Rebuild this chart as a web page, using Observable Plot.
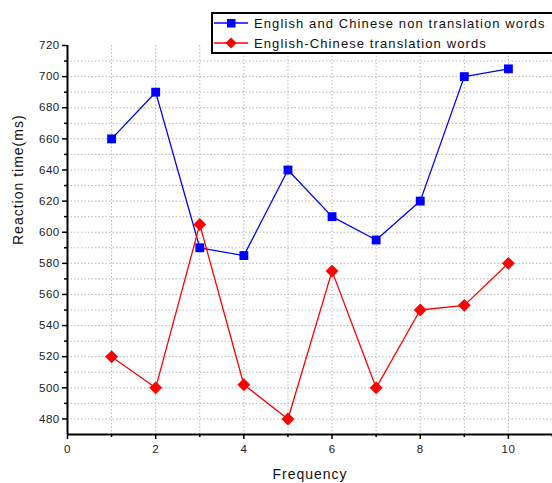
<!DOCTYPE html>
<html>
<head>
<meta charset="utf-8">
<script src="https://cdn.jsdelivr.net/npm/d3@7"></script>
<script src="https://cdn.jsdelivr.net/npm/@observablehq/plot@0.6"></script>
<style>
  html, body { margin: 0; padding: 0; background: #fff; }
  #wrap { position: relative; width: 552px; height: 483px; overflow: hidden; font-family: "Liberation Sans", Arial, sans-serif; }
  #legend { position: absolute; left: 211px; top: 12px; width: 345px; height: 38px; border: 2px solid #000; background: #fff; box-sizing: content-box; }
  .row { position: absolute; left: 0; height: 20px; display: flex; align-items: center; font-size: 13px; letter-spacing: 1.1px; color: #111; white-space: nowrap; }
  .row svg { margin-right: 5px; }
  #wrap svg g[aria-label="text"] text { letter-spacing: 1px; }
  #wrap svg g[aria-label="y-axis tick label"] text, #wrap svg g[aria-label="x-axis tick label"] text { letter-spacing: 0.4px; }
</style>
</head>
<body>
<div id="wrap"></div>
<script>
const frequency = [1, 2, 3, 4, 5, 6, 7, 8, 9, 10];
const nonTranslation = [660, 690, 590, 585, 640, 610, 595, 620, 700, 705];
const translation = [520, 500, 605, 502, 480, 575, 500, 550, 553, 580];
const seriesNames = ["English and Chinese non translation words", "English-Chinese translation words"];
const seriesColors = ["#0000ff", "#ff0000"];
const seriesSymbols = ["square", "diamond2"];
const yMajorTicks = d3.range(480, 721, 20);
const yMinorTicks = d3.range(490, 711, 20);
const xMajorTicks = [0, 2, 4, 6, 8, 10];
const xMinorTicks = [1, 3, 5, 7, 9, 11];
const yGrid = d3.range(480, 711, 10);
const xGrid = d3.range(1, 11, 1);

const rows = [];
frequency.forEach((f, i) => {
  rows.push({series: seriesNames[0], x: f, y: nonTranslation[i]});
  rows.push({series: seriesNames[1], x: f, y: translation[i]});
});
const s0 = rows.filter(d => d.series === seriesNames[0]);
const s1 = rows.filter(d => d.series === seriesNames[1]);

const fontFamily = "Liberation Sans, Arial, sans-serif";
const chart = Plot.plot({
  width: 552,
  height: 483,
  marginLeft: 67,
  marginRight: 0,
  marginTop: 45,
  marginBottom: 49,
  style: {fontFamily, fontSize: "11.5px", color: "#222", background: "#fff"},
  x: {domain: [0, 11]},
  y: {domain: [470, 720]},
  marks: [
    Plot.ruleY(yGrid, {y: d => d, stroke: "#b8b8b8", strokeWidth: 1, strokeDasharray: "1.5,2"}),
    Plot.ruleX(xGrid, {x: d => d, stroke: "#b8b8b8", strokeWidth: 1, strokeDasharray: "1.5,2"}),
    Plot.axisY({ticks: yMajorTicks, tickSize: 5, tickPadding: 3, label: null, stroke: "#000", strokeWidth: 1.5}),
    Plot.axisY({ticks: yMinorTicks, tickSize: 3, tickFormat: () => "", label: null, stroke: "#000", strokeWidth: 1.5}),
    Plot.axisX({ticks: xMajorTicks, tickSize: 5, tickPadding: 5, label: null, stroke: "#000", strokeWidth: 1.5}),
    Plot.axisX({ticks: xMinorTicks, tickSize: 3, tickFormat: () => "", label: null, stroke: "#000", strokeWidth: 1.5}),
    Plot.ruleX([0], {stroke: "#000", strokeWidth: 2}),
    Plot.ruleY([470], {stroke: "#000", strokeWidth: 2}),
    Plot.line(s0, {x: "x", y: "y", stroke: seriesColors[0], strokeWidth: 1.3}),
    Plot.line(s1, {x: "x", y: "y", stroke: seriesColors[1], strokeWidth: 1.3}),
    Plot.dot(s0, {x: "x", y: "y", symbol: seriesSymbols[0], fill: seriesColors[0], r: 5}),
    Plot.dot(s1, {x: "x", y: "y", symbol: seriesSymbols[1], fill: seriesColors[1], r: 5.8}),
    Plot.text(["Frequency"], {frameAnchor: "bottom", dy: 44, fontSize: 14, fill: "#111"}),
    Plot.text(["Reaction time(ms)"], {frameAnchor: "left", dx: -49, dy: 5, rotate: -90, fontSize: 14, fill: "#111"})
  ]
});

const wrap = document.getElementById("wrap");
wrap.appendChild(chart);

const legend = document.createElement("div");
legend.id = "legend";
seriesNames.forEach((name, i) => {
  const row = document.createElement("div");
  row.className = "row";
  row.style.top = (i * 20 - 1) + "px";
  const sym = seriesSymbols[i] === "square"
    ? `<rect x="14" y="6" width="8.5" height="8.5" fill="${seriesColors[i]}"/>`
    : `<path d="M18,4.5 L23.5,10 L18,15.5 L12.5,10Z" fill="${seriesColors[i]}"/>`;
  row.innerHTML = `<svg width="36" height="20"><line x1="1" x2="35" y1="10" y2="10" stroke="${seriesColors[i]}" stroke-width="1.5"/>${sym}</svg><span>${name}</span>`;
  legend.appendChild(row);
});
wrap.appendChild(legend);
</script>
</body>
</html>
